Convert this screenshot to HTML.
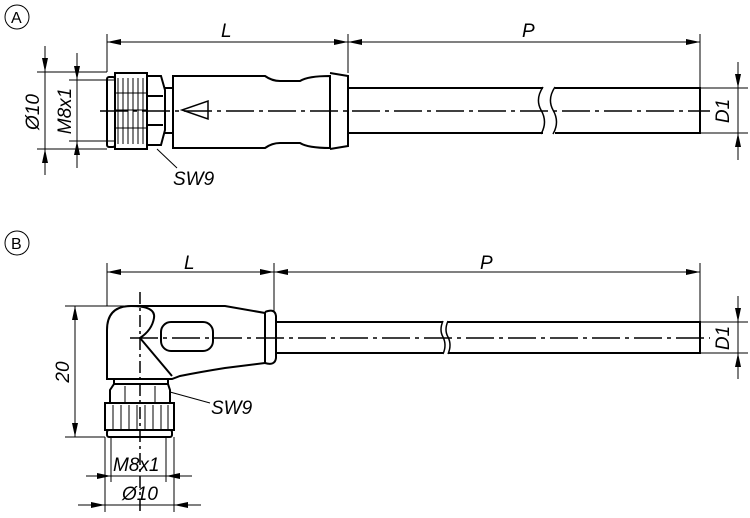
<!DOCTYPE html>
<html><head><meta charset="utf-8"><style>
html,body{margin:0;padding:0;background:#fff}
svg{display:block}
text{font-family:"Liberation Sans",sans-serif;font-style:italic;font-size:19px;fill:#000}
</style></head><body>
<svg width="750" height="518" viewBox="0 0 750 518" xmlns="http://www.w3.org/2000/svg">
<defs>
<marker id="a" viewBox="0 0 14 6" refX="14" refY="3" markerWidth="14" markerHeight="6" markerUnits="userSpaceOnUse" orient="auto-start-reverse"><path d="M0,0L14,3L0,6z" fill="#000"/></marker>
</defs>
<g fill="none" stroke="#000" stroke-width="1">
<circle cx="17" cy="17" r="12"/>
<line x1="107" y1="34" x2="107" y2="72"/>
<line x1="348" y1="34" x2="348" y2="73"/>
<line x1="700" y1="34" x2="700" y2="133"/>
<line x1="107" y1="42" x2="348" y2="42" marker-start="url(#a)" marker-end="url(#a)"/>
<line x1="348" y1="42" x2="700" y2="42" marker-start="url(#a)" marker-end="url(#a)"/>
<line x1="37" y1="72" x2="107" y2="72"/>
<line x1="37" y1="149" x2="107" y2="149"/>
<line x1="45" y1="46" x2="45" y2="72" marker-end="url(#a)"/>
<line x1="45" y1="175" x2="45" y2="149" marker-end="url(#a)"/>
<line x1="45" y1="72" x2="45" y2="149"/>
<line x1="69" y1="80" x2="115" y2="80"/>
<line x1="69" y1="141" x2="115" y2="141"/>
<line x1="77" y1="53" x2="77" y2="80" marker-end="url(#a)"/>
<line x1="77" y1="168" x2="77" y2="141" marker-end="url(#a)"/>
<line x1="77" y1="80" x2="77" y2="141"/>
<line x1="700" y1="88" x2="748" y2="88"/>
<line x1="700" y1="133" x2="748" y2="133"/>
<line x1="738" y1="62" x2="738" y2="88" marker-end="url(#a)"/>
<line x1="738" y1="160" x2="738" y2="133" marker-end="url(#a)"/>
<line x1="738" y1="88" x2="738" y2="133"/>
<line x1="157" y1="149" x2="177" y2="168"/>
</g>
<g fill="none" stroke="#000" stroke-width="2">
<rect x="107" y="77" width="8" height="70" rx="2"/>
<rect x="115" y="73" width="32" height="76"/>
<path d="M147,76 L161,76 L165,90 L165,130 L161,145 L147,145"/>
<line x1="147" y1="96" x2="163" y2="96"/><line x1="147" y1="125" x2="163" y2="125"/>
<line x1="165" y1="88" x2="173" y2="88"/><line x1="165" y1="133" x2="173" y2="133"/>
<path d="M173,76 L265,76 Q272,81 280,81 L300,81 Q308,76 330,76 L330,148 Q308,148 300,143 L280,143 Q272,143 265,148 L173,148 Z"/>
<path d="M330,73 L348,76 L348,146 L330,149"/>
<path d="M348,88 L543,88 M555,88 L700,88 L700,133 L555,133 M543,133 L348,133"/>
<path d="M543,87 Q535,99 541,110 Q548,122 541,134 M555,87 Q547,99 553,110 Q560,122 553,134" stroke-width="1.5"/>
<path d="M208,101 L208,119 L182,110 Z" stroke-width="1.5"/>
</g>
<g stroke="#000" stroke-width="1">
<line x1="118" y1="78" x2="118" y2="144"/><line x1="123" y1="78" x2="123" y2="144"/><line x1="128" y1="78" x2="128" y2="144"/><line x1="133" y1="78" x2="133" y2="144"/><line x1="138" y1="78" x2="138" y2="144"/><line x1="143" y1="78" x2="143" y2="144"/>
<line x1="115" y1="93" x2="147" y2="93"/><line x1="115" y1="110" x2="147" y2="110"/><line x1="115" y1="128" x2="147" y2="128"/>
</g>
<line x1="100" y1="111" x2="710" y2="111" stroke="#000" stroke-width="1.5" stroke-dasharray="28,5,4,5"/>
<text x="221" y="37">L</text>
<text x="522" y="37">P</text>
<text x="173" y="185">SW9</text>
<text transform="translate(39,112) rotate(-90)" text-anchor="middle">Ø10</text>
<text transform="translate(71,111) rotate(-90)" text-anchor="middle">M8x1</text>
<text transform="translate(729,111) rotate(-90)" text-anchor="middle">D1</text>

<g fill="none" stroke="#000" stroke-width="1">
<circle cx="17" cy="243" r="12"/>
<line x1="107" y1="263" x2="107" y2="306"/>
<line x1="274" y1="263" x2="274" y2="312"/>
<line x1="700" y1="263" x2="700" y2="352"/>
<line x1="107" y1="272" x2="274" y2="272" marker-start="url(#a)" marker-end="url(#a)"/>
<line x1="274" y1="272" x2="700" y2="272" marker-start="url(#a)" marker-end="url(#a)"/>
<line x1="65" y1="306" x2="140" y2="306"/>
<line x1="65" y1="437" x2="105" y2="437"/>
<line x1="75" y1="306" x2="75" y2="437" marker-start="url(#a)" marker-end="url(#a)"/>
<line x1="700" y1="322" x2="748" y2="322"/>
<line x1="700" y1="353" x2="748" y2="353"/>
<line x1="738" y1="296" x2="738" y2="322" marker-end="url(#a)"/>
<line x1="738" y1="379" x2="738" y2="353" marker-end="url(#a)"/>
<line x1="738" y1="322" x2="738" y2="353"/>
<line x1="111" y1="437" x2="111" y2="482"/>
<line x1="166" y1="437" x2="166" y2="482"/>
<line x1="105" y1="437" x2="105" y2="512"/>
<line x1="174" y1="437" x2="174" y2="512"/>
<line x1="86" y1="476" x2="111" y2="476" marker-end="url(#a)"/>
<line x1="192" y1="476" x2="166" y2="476" marker-end="url(#a)"/>
<line x1="111" y1="476" x2="166" y2="476"/>
<line x1="78" y1="505" x2="105" y2="505" marker-end="url(#a)"/>
<line x1="201" y1="505" x2="174" y2="505" marker-end="url(#a)"/>
<line x1="105" y1="505" x2="174" y2="505"/>
<line x1="170" y1="392" x2="210" y2="403"/>
</g>
<g fill="none" stroke="#000" stroke-width="2">
<path d="M107,379 L107,330 Q107,306 131,306 L225,306 L265,313 L265,363 L225,368 Q200,372 180,376 L172,379 Z"/>
<path d="M131,306 Q156,306 154,318 Q152,330 140,338 L172,376"/>
<rect x="161" y="322" width="52" height="29" rx="10"/>
<path d="M265,312 Q275,308 276,316 L276,358 Q275,366 265,363"/>
<path d="M276,322 L443,322 M448,322 L700,322 L700,353 L448,353 M443,353 L276,353"/>
<path d="M443,321 Q439,330 443,337 Q447,345 443,354 M448,321 Q444,330 448,337 Q452,345 448,354" stroke-width="1.5"/>
<path d="M114,379 L114,384 M168,379 L168,384"/>
<path d="M110,390 L114,384 L168,384 L170,390 L170,403 L110,403 Z"/>
<rect x="105" y="403" width="69" height="27"/>
<rect x="107" y="430" width="65" height="7" rx="2"/>
</g>
<g stroke="#000" stroke-width="1">
<line x1="125" y1="386" x2="125" y2="403"/><line x1="155" y1="386" x2="155" y2="403"/>
<line x1="113" y1="405" x2="113" y2="430"/><line x1="121" y1="405" x2="121" y2="430"/><line x1="129" y1="405" x2="129" y2="430"/><line x1="137" y1="405" x2="137" y2="430"/><line x1="145" y1="405" x2="145" y2="430"/><line x1="153" y1="405" x2="153" y2="430"/><line x1="161" y1="405" x2="161" y2="430"/><line x1="168" y1="405" x2="168" y2="430"/>
</g>
<line x1="130" y1="338" x2="710" y2="338" stroke="#000" stroke-width="1.5" stroke-dasharray="28,5,4,5"/>
<line x1="140" y1="292" x2="140" y2="515" stroke="#000" stroke-width="1.5" stroke-dasharray="12,4,3,4"/>
<text x="184" y="269">L</text>
<text x="480" y="269">P</text>
<text x="211" y="414">SW9</text>
<text x="113" y="471">M8x1</text>
<text x="122" y="500">Ø10</text>
<text transform="translate(69,372) rotate(-90)" text-anchor="middle">20</text>
<text transform="translate(729,338) rotate(-90)" text-anchor="middle">D1</text>
<text x="11" y="249" style="font-style:normal;font-size:16px">B</text>
<text x="11" y="23" style="font-style:normal;font-size:16px">A</text>
</svg>
</body></html>
